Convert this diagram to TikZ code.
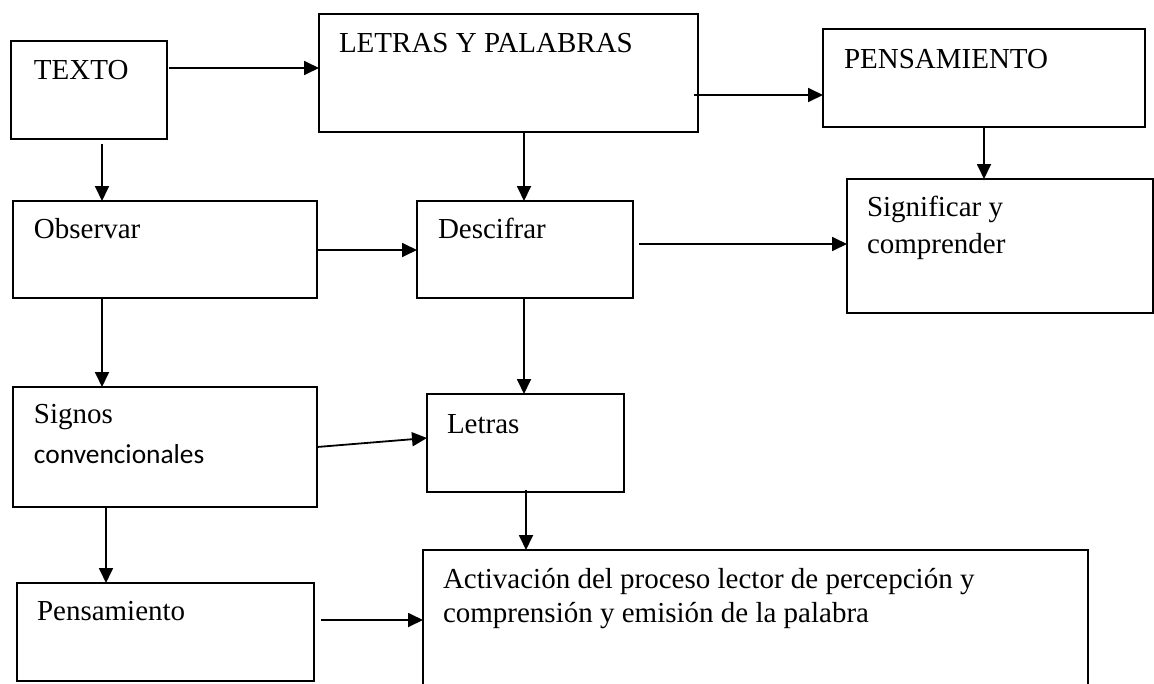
\documentclass[tikz,border=0pt]{standalone}
\usepackage{fontspec}
\setmainfont{Liberation Serif}
\newfontfamily\calfont{Carlito}
\usetikzlibrary{arrows.meta}
\begin{document}
\begin{tikzpicture}[x=1pt,y=-1pt,
  box/.style={draw=black, line width=1.3pt, rectangle, anchor=north west, inner sep=0pt, outer sep=0pt},
  lbl/.style={anchor=base west, inner sep=0pt, outer sep=0pt, font=\fontsize{29}{35}\selectfont},
  clbl/.style={anchor=base west, inner sep=0pt, outer sep=0pt, font=\calfont\fontsize{27.4}{33}\selectfont},
  arr/.style={draw=black, line width=1.8pt, -{Triangle[length=15pt,width=14pt]}}]
\clip (0,0) rectangle (1154,683);
\fill[white] (0,0) rectangle (1154,683);
% boxes
\node[box, minimum width=156pt, minimum height=98pt] (texto) at (11,41) {};
\node[box, minimum width=379pt, minimum height=118pt] (letras) at (319,14) {};
\node[box, minimum width=322pt, minimum height=98pt] (pens) at (823,29) {};
\node[box, minimum width=304pt, minimum height=97pt] (obs) at (13,201) {};
\node[box, minimum width=216pt, minimum height=97pt] (desc) at (417,201) {};
\node[box, minimum width=306pt, minimum height=134pt] (sig) at (847,179) {};
\node[box, minimum width=304pt, minimum height=120pt] (signos) at (13,387) {};
\node[box, minimum width=197pt, minimum height=98pt] (letrasb) at (427,394) {};
\node[box, minimum width=297pt, minimum height=98pt] (pensam) at (17,583) {};
\node[box, minimum width=665pt, minimum height=160pt] (act) at (423,550) {};
% labels
\node[lbl] (ttexto) at (34,79) {TEXTO};
\node[lbl] (tletras) at (339,52) {LETRAS Y PALABRAS};
\node[lbl] (tpens) at (844,68) {PENSAMIENTO};
\node[lbl] (tobs) at (34,238) {Observar};
\node[lbl] (tdesc) at (438,238) {Descifrar};
\node[lbl] (tsig1) at (867,216) {Significar y};
\node[lbl] (tsig2) at (867,253) {comprender};
\node[lbl] (tsignos1) at (34,423) {Signos};
\node[clbl] (tsignos2) at (34,463) {convencionales};
\node[lbl] (tletrasb) at (447,433) {Letras};
\node[lbl] (tpensam) at (37,620) {Pensamiento};
\node[lbl] (tact1) at (443,588) {Activación del proceso lector de percepción y};
\node[lbl] (tact2) at (443,622) {comprensión y emisión de la palabra};
% connectors
\draw[arr, shorten <=2pt] (texto.east |- 0,68) -- (letras.west |- 0,68);
\draw[arr, shorten <=-4pt] (letras.east |- 0,95) -- (pens.west |- 0,95);
\draw[arr, shorten <=5pt] (texto.south -| 102,0) -- (obs.north -| 102,0);
\draw[arr] (letras.south -| 524,0) -- (desc.north -| 524,0);
\draw[arr] (pens.south -| 984,0) -- (sig.north -| 984,0);
\draw[arr] (obs.east |- 0,250) -- (desc.west |- 0,250);
\draw[arr, shorten <=6pt] (desc.east |- 0,244) -- (sig.west |- 0,244);
\draw[arr] (obs.south -| 102,0) -- (signos.north -| 102,0);
\draw[arr] (desc.south -| 524,0) -- (letrasb.north -| 524,0);
\draw[arr] (signos.east |- 0,447) -- (letrasb.west |- 0,438);
\draw[arr] (signos.south -| 106,0) -- (pensam.north -| 106,0);
\draw[arr, shorten <=-2pt] (letrasb.south -| 526,0) -- (act.north -| 526,0);
\draw[arr, shorten <=7pt] (pensam.east |- 0,620) -- (act.west |- 0,620);
\end{tikzpicture}
\end{document}
